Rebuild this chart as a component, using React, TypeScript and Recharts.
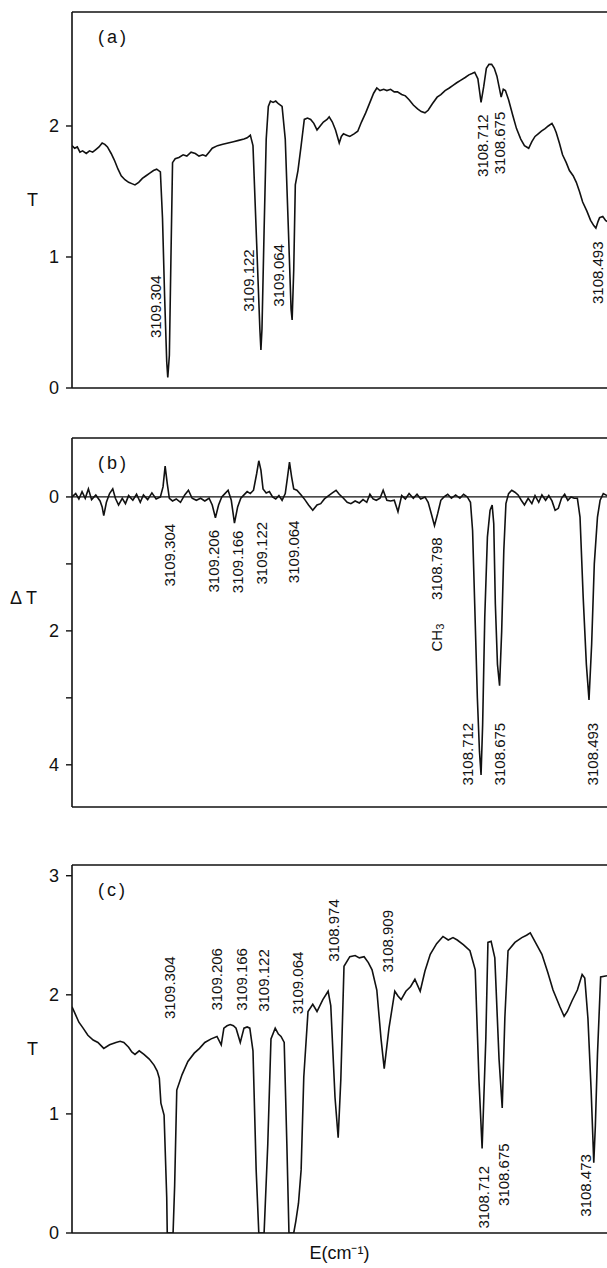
import { LineChart, Line, XAxis, YAxis, ReferenceLine, ReferenceDot } from 'recharts';

// wavenumber range shown (cm-1), high on the left
const E_LEFT = 3109.485;
const E_RIGHT = 3108.474;

// (a) transmission spectrum: [E, T]
const spectrumA: [number, number][] = [
  [3109.485, 1.85], [3109.480, 1.83], [3109.475, 1.84], [3109.470, 1.80], [3109.465, 1.81],
  [3109.458, 1.79], [3109.452, 1.81], [3109.446, 1.80], [3109.440, 1.82], [3109.434, 1.84],
  [3109.428, 1.87], [3109.423, 1.86], [3109.418, 1.84], [3109.411, 1.79], [3109.405, 1.74],
  [3109.398, 1.67], [3109.392, 1.62], [3109.385, 1.59], [3109.378, 1.57], [3109.372, 1.56],
  [3109.366, 1.55], [3109.359, 1.57], [3109.352, 1.60], [3109.345, 1.62], [3109.338, 1.64],
  [3109.331, 1.66], [3109.325, 1.67], [3109.318, 1.65], [3109.314, 1.30], [3109.310, 0.70],
  [3109.306, 0.20], [3109.304, 0.08], [3109.301, 0.25], [3109.298, 1.00], [3109.295, 1.72],
  [3109.290, 1.75], [3109.283, 1.76], [3109.275, 1.78], [3109.268, 1.77], [3109.260, 1.80],
  [3109.252, 1.79], [3109.245, 1.77], [3109.238, 1.78], [3109.232, 1.77], [3109.226, 1.80],
  [3109.220, 1.83], [3109.210, 1.85], [3109.200, 1.86], [3109.190, 1.87], [3109.180, 1.88],
  [3109.170, 1.89], [3109.160, 1.90], [3109.154, 1.91], [3109.148, 1.93], [3109.143, 1.85],
  [3109.136, 1.10], [3109.130, 0.45], [3109.128, 0.29], [3109.126, 0.45], [3109.122, 1.20],
  [3109.118, 1.90], [3109.114, 2.15], [3109.110, 2.19], [3109.105, 2.18], [3109.100, 2.19],
  [3109.095, 2.17], [3109.088, 2.15], [3109.082, 1.90], [3109.076, 1.20], [3109.071, 0.60],
  [3109.069, 0.52], [3109.066, 0.90], [3109.063, 1.55], [3109.058, 1.66], [3109.052, 1.85],
  [3109.046, 2.05], [3109.040, 2.06], [3109.034, 2.05], [3109.028, 2.02], [3109.022, 1.97],
  [3109.016, 2.00], [3109.010, 2.03], [3109.003, 2.05], [3108.999, 2.07], [3108.993, 2.03],
  [3108.987, 1.97], [3108.980, 1.87], [3108.976, 1.92], [3108.972, 1.94], [3108.966, 1.93],
  [3108.960, 1.92], [3108.952, 1.94], [3108.945, 1.96], [3108.938, 2.03], [3108.930, 2.10],
  [3108.922, 2.18], [3108.915, 2.25], [3108.909, 2.29], [3108.903, 2.27], [3108.896, 2.28],
  [3108.890, 2.27], [3108.883, 2.28], [3108.876, 2.26], [3108.870, 2.26], [3108.862, 2.24],
  [3108.855, 2.23], [3108.848, 2.20], [3108.840, 2.16], [3108.832, 2.13], [3108.825, 2.11],
  [3108.818, 2.10], [3108.812, 2.12], [3108.804, 2.17], [3108.795, 2.22], [3108.788, 2.24],
  [3108.780, 2.27], [3108.772, 2.29], [3108.765, 2.31], [3108.758, 2.33], [3108.750, 2.35],
  [3108.742, 2.37], [3108.735, 2.39], [3108.729, 2.40], [3108.724, 2.41], [3108.718, 2.36],
  [3108.712, 2.18], [3108.707, 2.30], [3108.702, 2.44], [3108.697, 2.47], [3108.692, 2.47],
  [3108.687, 2.44], [3108.682, 2.38], [3108.678, 2.30], [3108.674, 2.22], [3108.670, 2.28],
  [3108.666, 2.27], [3108.660, 2.20], [3108.652, 2.08], [3108.645, 1.98], [3108.637, 1.90],
  [3108.630, 1.85], [3108.622, 1.83], [3108.616, 1.88], [3108.610, 1.92], [3108.604, 1.94],
  [3108.598, 1.96], [3108.591, 1.98], [3108.585, 2.00], [3108.578, 2.02], [3108.574, 1.99],
  [3108.570, 1.95], [3108.564, 1.87], [3108.558, 1.78], [3108.551, 1.72], [3108.545, 1.66],
  [3108.538, 1.62], [3108.532, 1.57], [3108.526, 1.50], [3108.520, 1.42], [3108.512, 1.35],
  [3108.505, 1.28], [3108.499, 1.24], [3108.495, 1.22], [3108.491, 1.27], [3108.488, 1.30],
  [3108.482, 1.31], [3108.477, 1.28], [3108.474, 1.27],
];

// (b) difference spectrum: [E, dT]
const spectrumB: [number, number][] = [
  [3109.485, 0.00], [3109.478, -0.05], [3109.472, 0.03], [3109.466, -0.08], [3109.460, 0.02],
  [3109.454, -0.12], [3109.448, 0.04], [3109.440, -0.03], [3109.432, 0.06], [3109.428, 0.15],
  [3109.425, 0.28], [3109.420, 0.08], [3109.414, -0.05], [3109.408, -0.12], [3109.403, 0.02],
  [3109.397, 0.12], [3109.390, 0.02], [3109.384, 0.10], [3109.378, -0.02], [3109.370, 0.05],
  [3109.363, -0.04], [3109.356, 0.08], [3109.350, -0.03], [3109.342, 0.04], [3109.334, -0.06],
  [3109.326, 0.03], [3109.318, 0.00], [3109.313, -0.15], [3109.309, -0.46], [3109.305, -0.20],
  [3109.301, 0.02], [3109.295, 0.06], [3109.288, 0.03], [3109.280, 0.08], [3109.272, -0.03],
  [3109.265, -0.10], [3109.258, 0.02], [3109.250, 0.05], [3109.242, 0.02], [3109.234, 0.06],
  [3109.226, 0.02], [3109.220, 0.12], [3109.214, 0.31], [3109.208, 0.12], [3109.202, 0.00],
  [3109.196, -0.05], [3109.190, -0.10], [3109.184, 0.05], [3109.178, 0.39], [3109.172, 0.15],
  [3109.166, 0.02], [3109.160, -0.03], [3109.154, -0.08], [3109.148, -0.05], [3109.142, -0.10],
  [3109.136, -0.35], [3109.132, -0.54], [3109.128, -0.40], [3109.124, -0.12], [3109.118, -0.06],
  [3109.112, -0.08], [3109.106, 0.00], [3109.100, 0.03], [3109.094, -0.02], [3109.088, 0.05],
  [3109.082, -0.05], [3109.078, -0.28], [3109.074, -0.52], [3109.070, -0.30], [3109.066, -0.12],
  [3109.060, -0.10], [3109.052, -0.03], [3109.045, 0.04], [3109.038, 0.12], [3109.030, 0.20],
  [3109.022, 0.12], [3109.015, 0.10], [3109.008, 0.03], [3109.000, -0.02], [3108.993, -0.06],
  [3108.986, -0.10], [3108.980, -0.04], [3108.972, 0.02], [3108.965, 0.08], [3108.958, 0.10],
  [3108.950, 0.06], [3108.942, 0.09], [3108.935, 0.04], [3108.928, 0.08], [3108.922, -0.04],
  [3108.916, 0.03], [3108.910, 0.05], [3108.903, 0.02], [3108.897, -0.10], [3108.890, 0.05],
  [3108.883, 0.06], [3108.876, 0.05], [3108.869, 0.22], [3108.862, -0.02], [3108.855, 0.03],
  [3108.848, -0.05], [3108.840, 0.02], [3108.833, -0.04], [3108.826, 0.03], [3108.818, 0.00],
  [3108.812, 0.08], [3108.806, 0.25], [3108.800, 0.43], [3108.794, 0.25], [3108.788, 0.05],
  [3108.782, 0.00], [3108.775, -0.04], [3108.768, 0.02], [3108.760, -0.03], [3108.752, 0.02],
  [3108.745, -0.04], [3108.738, 0.00], [3108.732, 0.08], [3108.728, 0.50], [3108.724, 1.60],
  [3108.719, 3.00], [3108.715, 3.80], [3108.712, 4.15], [3108.709, 3.40], [3108.705, 1.80],
  [3108.700, 0.60], [3108.695, 0.20], [3108.691, 0.12], [3108.688, 0.40], [3108.685, 1.60],
  [3108.681, 2.50], [3108.677, 2.82], [3108.673, 2.00], [3108.669, 0.80], [3108.665, 0.10],
  [3108.660, -0.05], [3108.654, -0.10], [3108.648, -0.07], [3108.642, -0.03], [3108.636, 0.05],
  [3108.630, 0.12], [3108.623, 0.02], [3108.616, 0.10], [3108.610, -0.02], [3108.603, 0.08],
  [3108.597, -0.03], [3108.590, 0.05], [3108.584, -0.02], [3108.578, 0.06], [3108.572, 0.20],
  [3108.566, 0.17], [3108.560, 0.02], [3108.554, -0.04], [3108.548, 0.05], [3108.542, 0.00],
  [3108.536, 0.02], [3108.530, 0.02], [3108.525, 0.30], [3108.519, 1.50], [3108.513, 2.50],
  [3108.508, 3.03], [3108.503, 2.20], [3108.498, 1.00], [3108.492, 0.30], [3108.487, 0.05],
  [3108.481, -0.05], [3108.474, -0.02],
];

// (c) transmission spectrum: [E, T]
const spectrumC: [number, number][] = [
  [3109.485, 1.90], [3109.479, 1.84], [3109.472, 1.77], [3109.464, 1.72], [3109.455, 1.66],
  [3109.445, 1.62], [3109.436, 1.60], [3109.425, 1.55], [3109.414, 1.58], [3109.402, 1.60],
  [3109.394, 1.61], [3109.387, 1.60], [3109.378, 1.56], [3109.372, 1.52], [3109.366, 1.50],
  [3109.358, 1.53], [3109.349, 1.50], [3109.339, 1.46], [3109.330, 1.41], [3109.324, 1.36],
  [3109.320, 1.30], [3109.317, 1.09], [3109.311, 0.99], [3109.306, 0.30], [3109.305, 0.00],
  [3109.294, 0.00], [3109.291, 0.40], [3109.287, 1.20], [3109.277, 1.33], [3109.266, 1.44],
  [3109.254, 1.51], [3109.244, 1.55], [3109.234, 1.60], [3109.222, 1.63], [3109.211, 1.65],
  [3109.203, 1.58], [3109.198, 1.72], [3109.192, 1.74], [3109.186, 1.75], [3109.180, 1.74],
  [3109.175, 1.72], [3109.167, 1.60], [3109.160, 1.72], [3109.154, 1.73], [3109.149, 1.72],
  [3109.143, 1.53], [3109.137, 0.53], [3109.132, 0.00], [3109.122, 0.00], [3109.115, 0.75],
  [3109.109, 1.63], [3109.101, 1.72], [3109.095, 1.67], [3109.090, 1.65], [3109.084, 1.60],
  [3109.079, 0.75], [3109.075, 0.00], [3109.066, 0.00], [3109.062, 0.10], [3109.057, 0.25],
  [3109.052, 0.53], [3109.047, 1.31], [3109.039, 1.86], [3109.030, 1.92], [3109.022, 1.86],
  [3109.011, 1.96], [3109.001, 2.03], [3108.996, 1.91], [3108.988, 1.14], [3108.982, 0.80],
  [3108.977, 1.29], [3108.971, 2.24], [3108.960, 2.32], [3108.950, 2.33], [3108.942, 2.31],
  [3108.933, 2.32], [3108.925, 2.27], [3108.918, 2.21], [3108.909, 2.04], [3108.901, 1.63],
  [3108.895, 1.38], [3108.886, 1.72], [3108.875, 2.03], [3108.869, 1.99], [3108.863, 1.96],
  [3108.854, 2.03], [3108.845, 2.07], [3108.837, 2.13], [3108.827, 2.03], [3108.818, 2.20],
  [3108.808, 2.34], [3108.796, 2.43], [3108.784, 2.49], [3108.774, 2.46], [3108.765, 2.48],
  [3108.757, 2.46], [3108.745, 2.42], [3108.733, 2.37], [3108.723, 2.21], [3108.716, 1.29],
  [3108.710, 0.71], [3108.703, 1.63], [3108.699, 2.44], [3108.693, 2.45], [3108.686, 2.31],
  [3108.678, 1.46], [3108.672, 1.05], [3108.667, 1.81], [3108.661, 2.37], [3108.648, 2.44],
  [3108.635, 2.48], [3108.626, 2.50], [3108.619, 2.52], [3108.608, 2.43], [3108.597, 2.34],
  [3108.586, 2.19], [3108.576, 2.04], [3108.563, 1.90], [3108.555, 1.82], [3108.549, 1.86],
  [3108.540, 1.95], [3108.530, 2.04], [3108.521, 2.17], [3108.516, 2.14], [3108.510, 1.80],
  [3108.504, 1.20], [3108.499, 0.59], [3108.496, 0.90], [3108.492, 1.50], [3108.486, 2.15],
  [3108.474, 2.16],
];

// peak annotations: [text, E, value]
const labelsA: [string, number, number][] = [
  ['3109.304', 3109.328, 0.62], ['3109.122', 3109.152, 0.82], ['3109.064', 3109.094, 0.86],
  ['3108.712', 3108.710, 1.85], ['3108.675', 3108.678, 1.87], ['3108.493', 3108.491, 0.88],
];
const labelsB: [string, number, number][] = [
  ['3109.304', 3109.300, 0.87], ['3109.206', 3109.217, 0.96], ['3109.166', 3109.173, 0.97],
  ['3109.122', 3109.126, 0.84], ['3109.064', 3109.067, 0.82], ['3108.798', 3108.797, 1.07],
  ['3108.712', 3108.737, 3.84], ['3108.675', 3108.677, 3.84], ['3108.493', 3108.502, 3.84],
];
const labelsC: [string, number, number][] = [
  ['3109.304', 3109.300, 2.06], ['3109.206', 3109.211, 2.13], ['3109.166', 3109.164, 2.13],
  ['3109.122', 3109.124, 2.12], ['3109.064', 3109.059, 2.10], ['3108.974', 3108.990, 2.54],
  ['3108.909', 3108.889, 2.45], ['3108.712', 3108.708, 0.30], ['3108.675', 3108.670, 0.49],
  ['3108.473', 3108.515, 0.40],
];

const ticksA = [0, 1, 2];
const ticksB = [0, 1, 2, 3, 4];
const ticksC = [0, 1, 2, 3];

const FONT = '"Liberation Sans", Arial, sans-serif';
const INK = '#111';

const toRows = (pts: [number, number][]) => pts.map(([e, v]) => ({ e, v }));

const vText = (text: string) => (p: any) => (
  <text
    x={p.cx}
    y={p.cy}
    transform={`rotate(-90 ${p.cx} ${p.cy})`}
    textAnchor="middle"
    dominantBaseline="central"
    fontSize={15}
    fontFamily={FONT}
    fill={INK}
  >
    {text}
  </text>
);

const ch3Text = (p: any) => (
  <text
    x={p.cx}
    y={p.cy}
    transform={`rotate(-90 ${p.cx} ${p.cy})`}
    textAnchor="middle"
    dominantBaseline="central"
    fontSize={15}
    fontFamily={FONT}
    fill={INK}
  >
    CH<tspan dy={4} fontSize={11}>3</tspan>
  </text>
);

interface PanelProps {
  top: number;
  height: number;
  marginTop: number;
  axisHeight: number;
  points: [number, number][];
  labels: [string, number, number][];
  domain: [number, number];
  ticks: number[];
  reversed?: boolean;
  yName: string;
  yNameOffset: number;
  yNameDy?: number;
  tag: string;
  tagTop: number;
  tickLabel?: (v: number) => string;
  zeroLine?: boolean;
  xName?: string;
  extra?: React.ReactNode;
}

const Panel = (props: PanelProps) => {
  const frameTop = props.reversed ? props.domain[0] : props.domain[1];
  return (
    <div style={{ position: 'absolute', left: 0, top: props.top, width: 607, height: props.height }}>
      <LineChart
        width={607}
        height={props.height}
        data={toRows(props.points)}
        margin={{ top: props.marginTop, right: 0, bottom: 0, left: 0 }}
      >
        <XAxis
          dataKey="e"
          type="number"
          domain={[E_RIGHT, E_LEFT]}
          reversed
          allowDataOverflow
          height={props.axisHeight}
          tick={false}
          tickLine={false}
          axisLine={{ stroke: INK, strokeWidth: 1.6 }}
          label={
            props.xName
              ? { value: props.xName, position: 'insideBottom', offset: 9, fontSize: 18, fill: INK, fontFamily: FONT }
              : undefined
          }
        />
        <YAxis
          type="number"
          domain={props.domain}
          reversed={props.reversed}
          allowDataOverflow
          ticks={props.ticks}
          width={72}
          tickSize={6}
          tickMargin={7}
          tickFormatter={props.tickLabel}
          axisLine={{ stroke: INK, strokeWidth: 1.6 }}
          tickLine={{ stroke: INK, strokeWidth: 1.4 }}
          tick={{ fontSize: 18, fill: INK, fontFamily: FONT }}
          label={{
            value: props.yName,
            position: 'insideLeft',
            offset: props.yNameOffset,
            dy: props.yNameDy ?? 0,
            fontSize: 18,
            fill: INK,
            fontFamily: FONT,
          }}
        />
        <ReferenceLine y={frameTop} stroke={INK} strokeWidth={1.6} />
        {props.zeroLine && <ReferenceLine y={0} stroke={INK} strokeWidth={1.2} />}
        <Line
          type="linear"
          dataKey="v"
          stroke={INK}
          strokeWidth={1.6}
          dot={false}
          isAnimationActive={false}
        />
        {props.labels.map(([t, e, v]) => (
          <ReferenceDot key={t + e} x={e} y={v} r={1} shape={vText(t)} />
        ))}
        {props.extra}
      </LineChart>
      <span
        style={{
          position: 'absolute',
          left: 98,
          top: props.tagTop,
          fontFamily: FONT,
          fontSize: 18,
          letterSpacing: 3,
          color: INK,
          lineHeight: '20px',
        }}
      >
        {props.tag}
      </span>
    </div>
  );
};

export default function App() {
  return (
    <div style={{ position: 'absolute', left: 0, top: 0, width: 607, height: 1268, background: '#fff', overflow: 'hidden' }}>
      <Panel
        top={0}
        height={400}
        marginTop={12}
        axisHeight={12}
        points={spectrumA}
        labels={labelsA}
        domain={[0, 2.87]}
        ticks={ticksA}
        yName="T"
        yNameOffset={27}
        tag="(a)"
        tagTop={27}
      />
      <Panel
        top={420}
        height={400}
        marginTop={18}
        axisHeight={13}
        points={spectrumB}
        labels={labelsB}
        domain={[-0.88, 4.63]}
        ticks={ticksB}
        reversed
        yName="Δ T"
        yNameOffset={10}
        yNameDy={-25}
        tag="(b)"
        tagTop={33}
        tickLabel={(v) => (v % 2 === 0 ? String(v) : '')}
        zeroLine
        extra={<ReferenceDot x={3108.797} y={2.1} r={1} shape={ch3Text} />}
      />
      <Panel
        top={840}
        height={428}
        marginTop={25}
        axisHeight={35}
        points={spectrumC}
        labels={labelsC}
        domain={[0, 3.09]}
        ticks={ticksC}
        yName="T"
        yNameOffset={27}
        tag="(c)"
        tagTop={40}
        xName="E(cm⁻¹)"
      />
    </div>
  );
}
